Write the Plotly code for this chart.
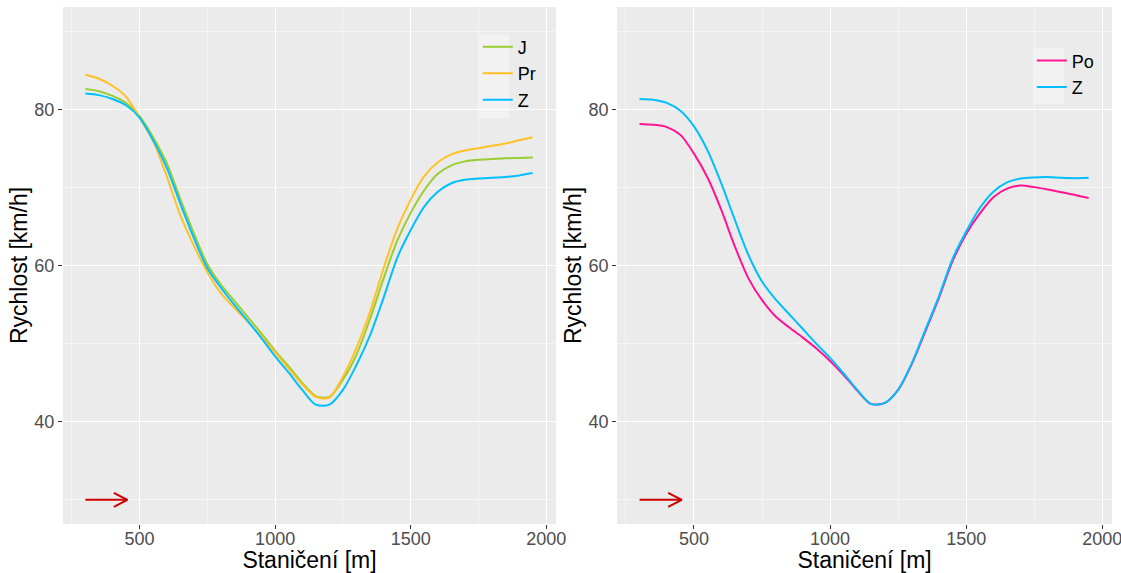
import plotly.graph_objects as go

# ---- data ----
stanice = [300, 350, 400, 450, 500, 550, 600, 650, 700, 750, 800, 850, 900, 950,
           1000, 1050, 1100, 1150, 1200, 1250, 1300, 1350, 1400, 1450, 1500, 1550,
           1600, 1650, 1700, 1750, 1800, 1850, 1900, 1950]

left_J  = [82.7, 82.4, 81.8, 80.9, 79.2, 76.5, 73.2, 68.6, 64.2, 60.2, 57.6, 55.5, 53.4, 51.3,
           49.1, 47.1, 45.0, 43.3, 43.2, 45.4, 48.6, 53.2, 58.4, 63.2, 66.8, 69.7,
           71.8, 72.9, 73.4, 73.6, 73.7, 73.8, 73.85, 73.9]
left_Pr = [84.5, 84.0, 83.1, 81.7, 79.0, 76.0, 71.5, 66.5, 62.6, 59.2, 56.5, 54.6, 52.8, 50.9,
           48.9, 46.8, 44.8, 43.2, 43.1, 45.8, 49.5, 54.1, 59.7, 64.7, 68.5, 71.5,
           73.3, 74.3, 74.8, 75.1, 75.4, 75.7, 76.1, 76.5]
left_Z  = [82.1, 81.9, 81.4, 80.6, 79.0, 76.1, 72.6, 68.0, 63.6, 59.7, 57.2, 55.0, 52.9, 50.7,
           48.4, 46.3, 44.1, 42.2, 42.2, 44.1, 47.3, 51.1, 55.9, 61.0, 64.6, 67.6,
           69.5, 70.6, 71.05, 71.2, 71.3, 71.4, 71.6, 71.9]

right_Po = [78.2, 78.1, 77.8, 76.8, 74.4, 71.3, 67.2, 62.5, 58.4, 55.6, 53.5, 52.1, 50.8, 49.4,
            47.8, 46.0, 44.0, 42.3, 42.4, 44.1, 47.4, 51.6, 55.9, 60.6, 64.1, 66.7,
            68.8, 69.9, 70.3, 70.1, 69.8, 69.45, 69.1, 68.7]
right_Z  = [81.4, 81.3, 80.9, 79.9, 77.9, 74.8, 70.6, 65.9, 61.4, 58.0, 55.7, 53.8, 51.9, 50.0,
            48.2, 46.2, 44.1, 42.3, 42.4, 44.1, 47.5, 51.8, 56.1, 60.9, 64.4, 67.4,
            69.5, 70.7, 71.2, 71.35, 71.4, 71.3, 71.25, 71.3]

arrow_x = [300, 455]
arrow_y = 30

x_ticks = [500, 1000, 1500, 2000]
x_minor = [250, 750, 1250, 1750]
y_ticks = [40, 60, 80]
y_minor = [30, 50, 70, 90]

COL = {"J": "#9ACD32", "Pr": "#FFC125", "Z": "#00BFFF", "Po": "#FF1493"}

fig = go.Figure()

def add_line(x, y, name, xa, ya, legend):
    fig.add_trace(go.Scatter(x=x, y=y, mode="lines", name=name,
                             line=dict(color=COL[name], width=2, shape="spline", smoothing=0.8),
                             xaxis=xa, yaxis=ya, legend=legend))

add_line(stanice, left_J, "J", "x", "y", "legend")
add_line(stanice, left_Pr, "Pr", "x", "y", "legend")
add_line(stanice, left_Z, "Z", "x", "y", "legend")
add_line(stanice, right_Po, "Po", "x2", "y2", "legend2")
add_line(stanice, right_Z, "Z", "x2", "y2", "legend2")

# arrows (ggplot-style open head)
hx, hy = 50, 0.9
for xa, ya in [("x", "y"), ("x2", "y2")]:
    x0, x1 = arrow_x
    fig.add_trace(go.Scatter(
        x=[x0, x1, None, x1 - hx, x1, x1 - hx],
        y=[arrow_y, arrow_y, None, arrow_y + hy, arrow_y, arrow_y - hy],
        mode="lines", line=dict(color="#CD0000", width=2),
        showlegend=False, hoverinfo="skip", xaxis=xa, yaxis=ya))

xr = [217.5, 2036]
yr = [26.9, 93.2]
FONT = "Liberation Sans, Arial, sans-serif"

def ax(**kw):
    d = dict(
        showgrid=True, gridcolor="#FFFFFF", gridwidth=1.1,
        zeroline=False, showline=False, automargin=False,
        ticks="outside", ticklen=4, tickcolor="#333333", tickwidth=1,
        tickfont=dict(family=FONT, size=18, color="#4D4D4D"),
    )
    d.update(kw)
    return d

xt = dict(text="Staničení [m]", font=dict(family=FONT, size=23, color="black"), standoff=7)
yt = dict(text="Rychlost [km/h]", font=dict(family=FONT, size=23, color="black"), standoff=0)

fig.update_layout(
    width=1121, height=573,
    margin=dict(l=0, r=0, t=0, b=0),
    paper_bgcolor="white", plot_bgcolor="#EBEBEB",
    font=dict(family=FONT, color="black"),
    xaxis=ax(domain=[0.0562, 0.496], range=xr, tickvals=x_ticks, anchor="y", ticklabelstandoff=-6,
             ticklabeloverflow="allow",
             minor=dict(tickvals=x_minor, showgrid=True, gridcolor="#F4F4F4", gridwidth=0.6, ticks=""),
             title=xt),
    yaxis=ax(domain=[0.0855, 0.9878], range=yr, tickvals=y_ticks, anchor="x",
             minor=dict(tickvals=y_minor, showgrid=True, gridcolor="#F4F4F4", gridwidth=0.6, ticks=""),
             title=yt),
    xaxis2=ax(domain=[0.5505, 0.992], range=xr, tickvals=x_ticks, anchor="y2", ticklabelstandoff=-6,
              ticklabeloverflow="allow",
              minor=dict(tickvals=x_minor, showgrid=True, gridcolor="#F4F4F4", gridwidth=0.6, ticks=""),
              title=xt),
    yaxis2=ax(domain=[0.0855, 0.9878], range=yr, tickvals=y_ticks, anchor="x2",
              minor=dict(tickvals=y_minor, showgrid=True, gridcolor="#F4F4F4", gridwidth=0.6, ticks=""),
              title=yt),
    legend=dict(x=0.4262, y=0.95, xanchor="left", yanchor="top", bgcolor="rgba(0,0,0,0)",
                font=dict(family=FONT, size=18, color="black"), tracegroupgap=0, itemwidth=30),
    legend2=dict(x=0.9204, y=0.926, xanchor="left", yanchor="top", bgcolor="rgba(0,0,0,0)",
                 font=dict(family=FONT, size=18, color="black"), tracegroupgap=0, itemwidth=30),
    shapes=[
        dict(type="rect", xref="paper", yref="paper", x0=478/1121, x1=509/1121,
             y0=1-118/573, y1=1-35/573, fillcolor="#F2F2F2", line=dict(width=0), layer="below"),
        dict(type="rect", xref="paper", yref="paper", x0=1033/1121, x1=1064/1121,
             y0=1-104/573, y1=1-48/573, fillcolor="#F2F2F2", line=dict(width=0), layer="below"),
    ],
)

fig.write_html("out.html")
